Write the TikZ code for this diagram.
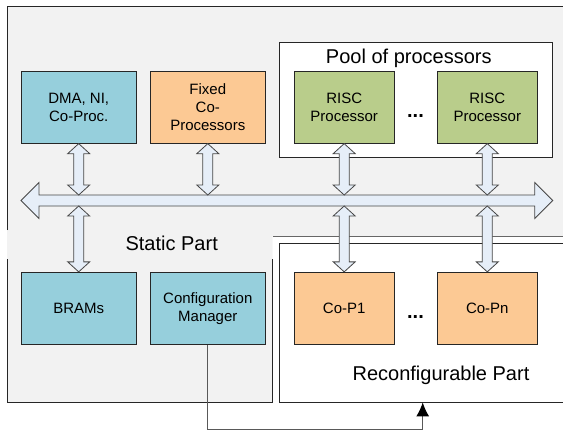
\documentclass[tikz,border=0pt]{standalone}
\usepackage{fontspec}
\setmainfont{Liberation Sans}
\usetikzlibrary{arrows.meta,calc}
\definecolor{bgGray}{HTML}{F2F2F2}
\definecolor{cBlue}{HTML}{96CFDC}
\definecolor{cOrange}{HTML}{FCC994}
\definecolor{cGreen}{HTML}{B9CD8B}
\definecolor{cBus}{HTML}{E6EEF8}
\definecolor{cLine}{HTML}{262626}
\definecolor{cConn}{HTML}{595959}
\newcommand\vdarr[2]{%
  \path[dbl] let \p1=(#1), \p2=(#2) in
    (\x1,\y1) -- (\x1+11pt,\y1-10pt) -- (\x1+5pt,\y1-10pt) -- (\x1+5pt,\y2+10pt)
    -- (\x1+11pt,\y2+10pt) -- (\x1,\y2) -- (\x1-11pt,\y2+10pt) -- (\x1-5pt,\y2+10pt)
    -- (\x1-5pt,\y1-10pt) -- (\x1-11pt,\y1-10pt) -- cycle;}
\begin{document}
\begin{tikzpicture}[x=1pt,y=-1pt,
  unit/.style={draw=cLine, line width=0.9pt, minimum width=115pt, minimum height=72pt,
    inner sep=0pt, align=center, font=\fontsize{15}{18}\selectfont},
  risc/.style={unit, minimum width=100.5pt},
  region/.style={draw=cLine, line width=0.9pt, fill=white, inner sep=0pt},
  biglabel/.style={font=\fontsize{20}{24}\selectfont, anchor=base, inner sep=0pt},
  dots/.style={font=\fontsize{20}{24}\selectfont\bfseries, anchor=base, inner sep=0pt},
  dbl/.style={draw=cLine!85, fill=cBus, line width=0.8pt, line join=miter},
  conn/.style={draw=cConn, line width=1pt}]
\useasboundingbox (0,0) rectangle (563,431);
% static part background
\fill[bgGray] (7,6) -- (570,6) -- (570,236) -- (272.5,236) -- (272.5,402) -- (7,402) -- cycle;
\draw[cLine, line width=0.9pt] (7,230) -- (7,6) -- (570,6);
\draw[cLine!70, line width=0.9pt] (570,236) -- (273,236);
\draw[cLine, line width=0.9pt] (272.5,259) -- (272.5,402) -- (7,402) -- (7,259);
% regions
\node[region, minimum width=273pt, minimum height=114.6pt] (pool) at (415.8,100) {};
\node[region, minimum width=321pt, minimum height=159pt] (reconf) at (439.5,322.5) {};
% bus
\coordinate (busL) at (21,200.5);
\coordinate (busR) at (552.7,200.5);
\coordinate (busT) at (0,195);
\coordinate (busB) at (0,206);
\path[dbl] let \p1=(busL), \p2=(busR) in
  (\x1,\y1) -- (\x1+18pt,\y1+18pt) -- (\x1+18pt,\y1+5.5pt) -- (\x2-18pt,\y1+5.5pt)
  -- (\x2-18pt,\y1+18pt) -- (\x2,\y2) -- (\x2-18pt,\y2-18pt) -- (\x2-18pt,\y2-5.5pt)
  -- (\x1+18pt,\y2-5.5pt) -- (\x1+18pt,\y2-18pt) -- cycle;
% units
\node[unit, fill=cBlue] (dma) at (78.7,107.2) {DMA, NI,\\Co-Proc.};
\node[unit, fill=cOrange] (fixed) at (207.8,107.2) {Fixed\\Co-\\Processors};
\node[risc, fill=cGreen] (risc1) at (344.2,107.2) {RISC\\Processor};
\node[risc, fill=cGreen] (risc2) at (487.3,107.2) {RISC\\Processor};
\node[unit, fill=cBlue] (bram) at (78.7,308.3) {BRAMs};
\node[unit, fill=cBlue] (cfg) at (207.8,308.3) {Configuration\\Manager};
\node[risc, fill=cOrange] (cop1) at (344.2,308.3) {Co-P1};
\node[risc, fill=cOrange] (copn) at (487.3,308.3) {Co-Pn};
% labels
\node[biglabel] (poolLbl) at (408.8,63.3) {Pool of processors};
\node[biglabel] (staticLbl) at (171.7,250) {Static Part};
\node[biglabel] (reconfLbl) at (441,380) {Reconfigurable Part};
\node[dots] (dotsTop) at (415.5,117) {...};
\node[dots] (dotsBot) at (415.5,318) {...};
% vertical double arrows
\vdarr{dma.south}{dma.south |- busT}
\vdarr{fixed.south}{fixed.south |- busT}
\vdarr{risc1.south}{risc1.south |- busT}
\vdarr{risc2.south}{risc2.south |- busT}
\vdarr{bram.north |- busB}{bram.north}
\vdarr{cop1.north |- busB}{cop1.north}
\vdarr{copn.north |- busB}{copn.north}
% configuration connector
\coordinate (turn) at (422.7,429.3);
\draw[conn, -{Latex[length=14pt,width=13pt,black]}] (cfg.south) |- (turn) -- (turn |- reconf.south);
\end{tikzpicture}
\end{document}
